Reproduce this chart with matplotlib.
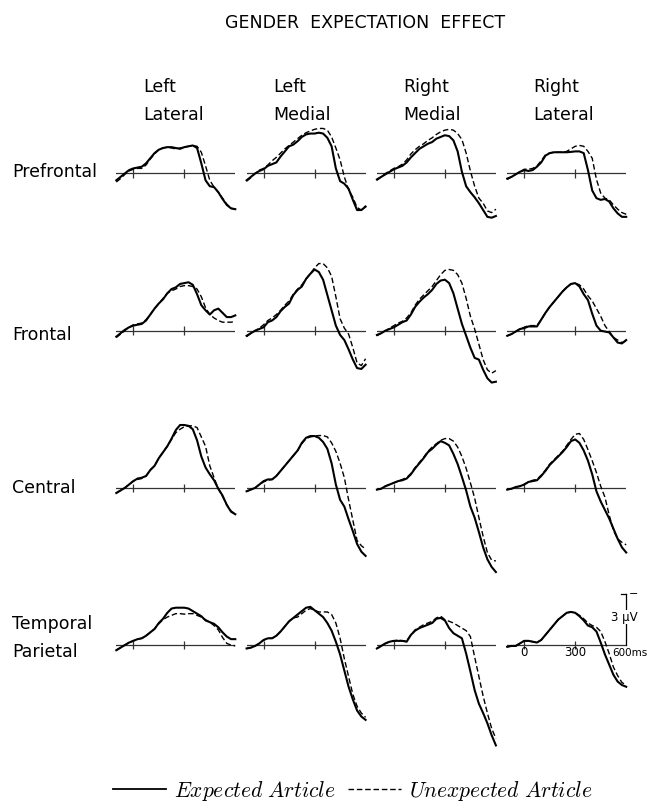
import matplotlib
matplotlib.use("Agg")
import matplotlib.pyplot as plt
from matplotlib.lines import Line2D

plt.rcParams['font.family'] = ['DejaVu Sans']
plt.rcParams['mathtext.fontset'] = 'cm'

# time axis (ms) and amplitudes (microvolts, negative plotted up)
times = list(range(-100, 601, 25))

regions = ['Prefrontal', 'Frontal', 'Central', 'Temporal\nParietal']
sites = ['Left\nLateral', 'Left\nMedial', 'Right\nMedial', 'Right\nLateral']
tick_times = [0, 300]
scale_uv = 3
scale_ms = 600

prefrontal_expected = [
    [0.4, 0.2, 0.0, -0.2, -0.3, -0.35, -0.4, -0.6, -0.9, -1.2, -1.4, -1.5, -1.55, -1.55, -1.5, -1.45, -1.55, -1.6, -1.65, -1.5, -0.6, 0.4, 0.75, 0.8, 1.1, 1.5, 1.85, 2.05, 2.1],
    [0.4, 0.2, 0.0, -0.15, -0.25, -0.45, -0.55, -0.65, -1.0, -1.3, -1.6, -1.7, -1.9, -2.15, -2.3, -2.35, -2.35, -2.4, -2.35, -2.1, -1.6, -0.3, 0.45, 0.6, 0.9, 1.55, 2.15, 2.15, 1.95],
    [0.35, 0.2, 0.05, -0.1, -0.25, -0.35, -0.45, -0.65, -0.95, -1.2, -1.45, -1.6, -1.75, -1.85, -2.05, -2.15, -2.25, -2.2, -1.95, -1.3, -0.1, 0.75, 1.1, 1.4, 1.75, 2.15, 2.55, 2.6, 2.5],
    [0.3, 0.2, 0.05, -0.1, -0.2, -0.15, -0.2, -0.4, -0.65, -1.05, -1.2, -1.25, -1.25, -1.25, -1.25, -1.27, -1.3, -1.3, -1.2, -0.2, 1.0, 1.45, 1.55, 1.5, 1.65, 2.05, 2.35, 2.55, 2.55],
]
prefrontal_unexpected = [
    [0.5, 0.3, 0.05, -0.15, -0.25, -0.3, -0.3, -0.5, -0.85, -1.15, -1.4, -1.5, -1.55, -1.5, -1.45, -1.5, -1.55, -1.6, -1.65, -1.6, -1.25, -0.45, 0.4, 0.8, 1.1, 1.45, 1.8, 2.05, 2.1],
    [0.45, 0.25, 0.0, -0.2, -0.3, -0.5, -0.75, -0.95, -1.2, -1.45, -1.65, -1.85, -2.05, -2.25, -2.4, -2.5, -2.6, -2.65, -2.65, -2.55, -2.15, -1.5, -0.8, 0.2, 0.95, 1.4, 2.0, 2.15, 1.9],
    [0.4, 0.2, 0.0, -0.15, -0.3, -0.4, -0.55, -0.8, -1.15, -1.4, -1.6, -1.75, -1.95, -2.1, -2.3, -2.45, -2.55, -2.6, -2.55, -2.35, -2.0, -1.2, -0.15, 0.75, 1.45, 1.75, 2.2, 2.3, 2.1],
    [0.35, 0.2, 0.05, -0.1, -0.25, -0.25, -0.3, -0.45, -0.75, -1.1, -1.2, -1.25, -1.25, -1.25, -1.3, -1.45, -1.6, -1.65, -1.6, -1.3, -0.9, 0.35, 1.15, 1.45, 1.55, 1.85, 2.1, 2.3, 2.4],
]
frontal_expected = [
    [0.35, 0.15, -0.05, -0.2, -0.3, -0.35, -0.4, -0.6, -0.95, -1.3, -1.6, -1.85, -2.2, -2.45, -2.55, -2.75, -2.8, -2.85, -2.7, -2.15, -1.5, -1.2, -0.95, -1.2, -1.3, -1.05, -0.8, -0.8, -0.9],
    [0.3, 0.15, 0.0, -0.1, -0.2, -0.5, -0.6, -0.8, -1.15, -1.4, -1.6, -2.1, -2.4, -2.6, -3.05, -3.35, -3.6, -3.45, -3.0, -2.1, -1.2, -0.3, 0.25, 0.55, 1.1, 1.7, 2.2, 2.25, 2.0],
    [0.25, 0.15, 0.0, -0.1, -0.2, -0.35, -0.5, -0.6, -0.95, -1.4, -1.7, -1.95, -2.15, -2.4, -2.75, -2.95, -3.0, -2.8, -2.2, -1.3, -0.4, 0.3, 1.0, 1.6, 1.7, 2.3, 2.8, 3.05, 3.0],
    [0.3, 0.2, 0.05, -0.1, -0.15, -0.25, -0.25, -0.25, -0.65, -1.05, -1.4, -1.7, -2.0, -2.3, -2.55, -2.75, -2.8, -2.6, -2.15, -1.8, -1.0, -0.3, 0.0, 0.05, 0.1, 0.4, 0.7, 0.75, 0.55],
]
frontal_unexpected = [
    [0.4, 0.2, 0.0, -0.2, -0.35, -0.4, -0.45, -0.65, -0.95, -1.3, -1.6, -1.9, -2.2, -2.35, -2.45, -2.6, -2.65, -2.65, -2.6, -2.45, -2.0, -1.35, -0.95, -0.75, -0.6, -0.5, -0.5, -0.5, -0.55],
    [0.35, 0.15, 0.0, -0.15, -0.35, -0.6, -0.75, -0.95, -1.2, -1.5, -1.75, -2.15, -2.45, -2.7, -3.05, -3.35, -3.7, -3.95, -3.95, -3.7, -3.2, -2.0, -0.7, -0.15, 0.2, 1.0, 1.9, 2.05, 1.65],
    [0.3, 0.15, 0.0, -0.15, -0.3, -0.45, -0.55, -0.75, -1.05, -1.5, -1.85, -2.1, -2.35, -2.6, -2.95, -3.3, -3.55, -3.6, -3.55, -3.3, -2.8, -1.9, -0.85, -0.1, 0.8, 1.7, 2.3, 2.5, 2.35],
    [0.3, 0.2, 0.05, -0.1, -0.2, -0.3, -0.3, -0.3, -0.65, -1.05, -1.4, -1.7, -2.0, -2.3, -2.55, -2.75, -2.8, -2.7, -2.45, -2.05, -1.75, -1.3, -0.85, -0.3, 0.05, 0.4, 0.55, 0.7, 0.6],
]
central_expected = [
    [0.3, 0.15, 0.0, -0.2, -0.4, -0.55, -0.6, -0.7, -1.05, -1.3, -1.75, -2.1, -2.45, -2.9, -3.4, -3.7, -3.7, -3.65, -3.45, -2.8, -1.85, -1.2, -0.8, -0.45, 0.05, 0.45, 1.0, 1.4, 1.55],
    [0.2, 0.1, 0.0, -0.2, -0.4, -0.5, -0.5, -0.7, -1.0, -1.3, -1.6, -1.9, -2.2, -2.65, -2.95, -3.05, -3.05, -2.95, -2.7, -2.3, -1.45, -0.2, 0.7, 1.1, 1.85, 2.55, 3.3, 3.75, 4.0],
    [0.1, 0.05, -0.1, -0.2, -0.3, -0.4, -0.45, -0.55, -0.8, -1.15, -1.45, -1.75, -2.1, -2.3, -2.55, -2.75, -2.65, -2.5, -2.0, -1.4, -0.65, 0.15, 1.1, 1.75, 2.6, 3.5, 4.2, 4.65, 4.95],
    [0.1, 0.05, -0.05, -0.1, -0.2, -0.35, -0.4, -0.45, -0.7, -1.0, -1.35, -1.6, -1.85, -2.1, -2.4, -2.75, -2.85, -2.65, -2.2, -1.6, -0.8, 0.2, 0.8, 1.3, 1.8, 2.4, 3.0, 3.5, 3.8],
]
central_unexpected = [
    [0.3, 0.15, 0.0, -0.2, -0.4, -0.5, -0.55, -0.7, -1.05, -1.3, -1.75, -2.1, -2.45, -2.85, -3.25, -3.45, -3.6, -3.65, -3.65, -3.55, -3.0, -2.45, -1.3, -0.6, 0.05, 0.5, 1.0, 1.35, 1.55],
    [0.2, 0.1, 0.0, -0.2, -0.35, -0.45, -0.5, -0.7, -1.0, -1.3, -1.6, -1.9, -2.2, -2.6, -2.9, -3.0, -3.05, -3.08, -3.08, -3.0, -2.65, -2.15, -1.45, -0.6, 0.7, 1.9, 3.1, 3.4, 3.6],
    [0.1, 0.05, -0.1, -0.2, -0.3, -0.4, -0.5, -0.6, -0.85, -1.2, -1.5, -1.8, -2.15, -2.4, -2.6, -2.8, -2.9, -2.9, -2.75, -2.4, -1.85, -1.15, -0.3, 0.6, 1.75, 2.85, 3.8, 4.25, 4.3],
    [0.1, 0.05, -0.05, -0.1, -0.2, -0.35, -0.45, -0.5, -0.75, -1.05, -1.4, -1.65, -1.9, -2.15, -2.5, -2.85, -3.15, -3.2, -2.85, -2.25, -1.6, -0.9, -0.1, 0.55, 1.6, 2.5, 3.0, 3.2, 3.35],
]
temporal_expected = [
    [0.3, 0.15, 0.0, -0.15, -0.25, -0.35, -0.4, -0.55, -0.75, -0.95, -1.3, -1.55, -1.9, -2.15, -2.2, -2.2, -2.2, -2.15, -2.0, -1.85, -1.7, -1.45, -1.35, -1.25, -1.05, -0.75, -0.5, -0.35, -0.35],
    [0.2, 0.15, 0.05, -0.1, -0.3, -0.4, -0.4, -0.55, -0.8, -1.1, -1.4, -1.6, -1.8, -2.0, -2.2, -2.25, -2.05, -1.85, -1.65, -1.3, -0.85, -0.2, 0.55, 1.5, 2.45, 3.2, 3.85, 4.2, 4.4],
    [0.2, 0.05, -0.1, -0.2, -0.25, -0.25, -0.25, -0.2, -0.6, -0.85, -1.0, -1.1, -1.2, -1.3, -1.55, -1.6, -1.45, -1.0, -0.7, -0.55, -0.4, 0.5, 1.55, 2.65, 3.45, 4.0, 4.6, 5.3, 5.9],
    [0.1, 0.05, 0.05, -0.1, -0.25, -0.25, -0.2, -0.15, -0.3, -0.6, -0.9, -1.2, -1.5, -1.7, -1.9, -1.95, -1.9, -1.7, -1.45, -1.15, -1.05, -0.8, -0.15, 0.55, 1.15, 1.75, 2.15, 2.35, 2.45],
]
temporal_unexpected = [
    [0.3, 0.15, 0.0, -0.15, -0.25, -0.35, -0.4, -0.55, -0.75, -0.95, -1.25, -1.5, -1.65, -1.75, -1.85, -1.85, -1.82, -1.85, -1.85, -1.75, -1.65, -1.5, -1.35, -1.15, -0.9, -0.45, -0.1, 0.0, 0.05],
    [0.2, 0.15, 0.05, -0.1, -0.3, -0.4, -0.4, -0.55, -0.8, -1.1, -1.4, -1.6, -1.65, -1.85, -2.05, -2.15, -2.05, -1.95, -1.95, -1.95, -1.8, -1.3, -0.4, 0.8, 1.85, 2.9, 3.6, 4.0, 4.25],
    [0.2, 0.05, -0.1, -0.2, -0.25, -0.3, -0.25, -0.25, -0.6, -0.9, -1.05, -1.2, -1.3, -1.4, -1.6, -1.7, -1.5, -1.4, -1.3, -1.15, -1.0, -0.85, -0.5, 0.7, 1.85, 3.0, 4.0, 4.9, 5.5],
    [0.1, 0.05, 0.05, -0.1, -0.25, -0.25, -0.2, -0.15, -0.3, -0.6, -0.9, -1.2, -1.5, -1.7, -1.9, -1.95, -1.9, -1.75, -1.55, -1.3, -1.15, -1.05, -0.8, -0.2, 0.5, 1.3, 1.8, 2.2, 2.35],
]

expected = [prefrontal_expected, frontal_expected, central_expected, temporal_expected]
unexpected = [prefrontal_unexpected, frontal_unexpected, central_unexpected, temporal_unexpected]

# page layout in pixels
W, H = 650, 805
px_ms = 0.17   # pixels per ms
px_uv = 17.0   # pixels per microvolt
col_zero = [133.3 + 130.3 * c for c in range(4)]
row_base = [173.5 + 157.2 * r for r in range(4)]
t0, t1 = -100, 600
v_top, v_bot = -4.5, 6.5

fig = plt.figure(figsize=(6.5, 8.05), dpi=100)

axes = {}
for r in range(4):
    for c in range(4):
        left = col_zero[c] + t0 * px_ms
        top = row_base[r] + v_top * px_uv
        w = (t1 - t0) * px_ms
        h = (v_bot - v_top) * px_uv
        ax = fig.add_axes([left / W, 1 - (top + h) / H, w / W, h / H])
        ax.set_xlim(t0, t1)
        ax.set_ylim(v_bot, v_top)
        ax.axis('off')
        ax.axhline(0, color='#333333', lw=0.9)
        ax.vlines(tick_times, -0.25, 0.25, color='#333333', lw=0.9)
        ax.plot(times, expected[r][c], color='black', lw=1.5, clip_on=False)
        ax.plot(times, unexpected[r][c], color='black', lw=1.0,
                ls=(0, (4, 2)), clip_on=False)
        axes[r, c] = ax

# scale bar and time labels in the bottom right panel
ax = axes[3, 3]
ax.plot([scale_ms, scale_ms], [0, -scale_uv], color='black', lw=0.9, clip_on=False)
ax.plot([scale_ms - 30, scale_ms], [-scale_uv, -scale_uv], color='black', lw=0.9, clip_on=False)
ax.text(scale_ms + 45, -scale_uv, '\u2212', fontsize=8, ha='center', va='center')
ax.text(scale_ms - 10, -scale_uv / 2 - 0.15, '3 \u03bcV', fontsize=8.5, ha='center', va='center',
        bbox=dict(facecolor='white', edgecolor='none', pad=0.3))
for t in tick_times:
    ax.text(t, 0.45, str(t), fontsize=8.5, ha='center', va='center')
ax.text(scale_ms - 80, 0.45, '600ms', fontsize=7.5, ha='left', va='center')

# titles and labels
fig.text(365 / W, 1 - 23 / H, 'GENDER  EXPECTATION  EFFECT', fontsize=12.5,
         ha='center', va='center')
header_x = [143, 273, 403, 533]
for c in range(4):
    fig.text(header_x[c] / W, 1 - 101 / H, sites[c], fontsize=12.5,
             ha='left', va='center', linespacing=1.75)
label_y = [172, 335, 488, 638]
for r in range(4):
    fig.text(12 / W, 1 - label_y[r] / H, regions[r], fontsize=12.5,
             ha='left', va='center', linespacing=1.75)

handles = [Line2D([], [], color='black', lw=1.3),
           Line2D([], [], color='black', lw=1.0, ls=(0, (4, 2)))]
labels = [r'$\mathit{Expected\ Article}$', r'$\mathit{Unexpected\ Article}$']
fig.legend(handles, labels, loc='center left', bbox_to_anchor=(113 / W, 1 - 791 / H),
           ncol=2, frameon=False, fontsize=15.5, handlelength=2.45,
           handletextpad=0.4, columnspacing=0.55, borderpad=0, borderaxespad=0)

fig.savefig('out.png', dpi=100)
